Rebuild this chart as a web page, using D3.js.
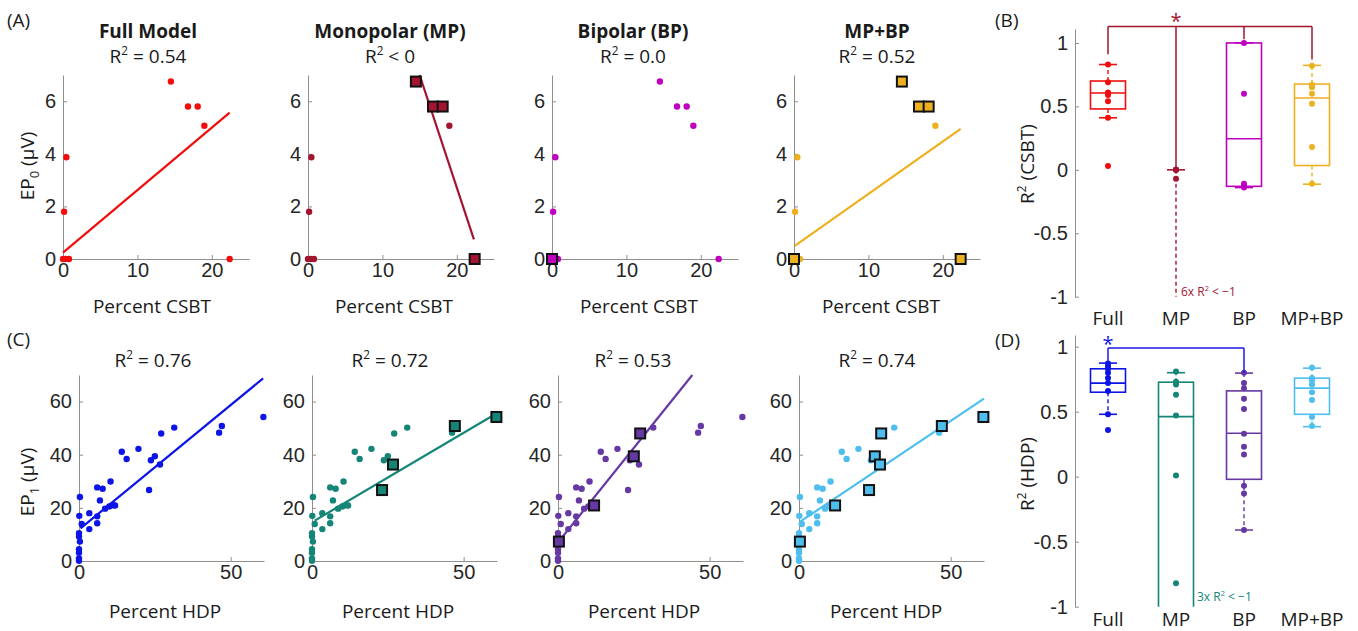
<!DOCTYPE html>
<html>
<head>
<meta charset="utf-8">
<script src="https://cdn.jsdelivr.net/npm/d3@7"></script>
<style>
  body { margin: 0; background: #fff; }
  text { font-family: "Open Sans", sans-serif; fill: #1a1a1a; }
  .axis path, .axis line { stroke: #8f8f8f; stroke-width: 1; }
  .axis text { font-family: "Liberation Sans", Arial, sans-serif; font-size: 20px; fill: #262626; }
</style>
</head>
<body>
<div id="chart"></div>
<script>
// ---- data ----
var csbtModels = ["Full Model", "Monopolar (MP)", "Bipolar (BP)", "MP+BP"];
var csbtR2Text = ["= 0.54", "< 0", "= 0.0", "= 0.52"];
var hdpR2Text = ["= 0.76", "= 0.72", "= 0.53", "= 0.74"];

var csbtColors = ["#f20d0d", "#a2142f", "#bf00bf", "#edb120"];
var hdpColors = ["#0d14e6", "#148577", "#6638a3", "#4dbeee"];

// EP0 vs percent CSBT
var csbtX = [0, 0.35, 0.8, 0.15, 0.45, 14.5, 16.8, 18.1, 19.0, 22.4];
var csbtY = [0, 0, 0, 1.8, 3.87, 6.75, 5.8, 5.8, 5.07, 0];
var csbtSquares = [[], [5, 6, 7, 9], [0], [0, 5, 6, 7, 9]];
var csbtFit = [[0, 0.24, 22.4, 5.57], [15.0, 7.0, 22.3, 0.75], null, [0.1, 0.5, 22.4, 4.95]];

// EP1 vs percent HDP
var hdpX = [0.3, 0.1, 0.9, 0, 0, 0.3, 0, 0, 0, 0, 3.4, 3.4, 6.0, 7.8, 6.9, 6.0, 6.0,
            10.4, 8.6, 10.0, 11.3, 11.9, 14.1, 15.7, 19.6, 23.1, 23.7, 25.0, 26.7, 27.1,
            31.4, 46.2, 47.1, 60.8];
var hdpY = [24.1, 17.0, 13.9, 10.5, 9.2, 7.3, 4.4, 3.1, 1.0, 0.1, 18.0, 12.0, 27.7, 27.2,
            22.8, 16.8, 14.2, 29.9, 19.7, 20.5, 21.0, 20.9, 41.1, 38.4, 42.2, 26.7, 37.9,
            39.4, 36.3, 48.0, 50.2, 48.3, 50.8, 54.2];
var hdpSquares = [[], [25, 28, 32, 33], [5, 21, 27, 29], [5, 21, 25, 27, 28, 29, 32, 33]];
var hdpFit = [[0.5, 12.3, 60.7, 68.7], [0.9, 15.2, 60.8, 55.5], [0, 7.0, 44.3, 70], [0.5, 14.9, 61, 61.1]];

var csbtXTicks = [0, 10, 20], csbtYTicks = [0, 2, 4, 6];
var hdpXTicks = [0, 50], hdpYTicks = [0, 20, 40, 60];

// R2 box plots: [q1, median, q3, whisker low, whisker high]
var boxGroups = ["Full", "MP", "BP", "MP+BP"];
var r2Ticks = [-1, -0.5, 0, 0.5, 1];
var csbtR2Points = [[0.83, 0.69, 0.61, 0.59, 0.54, 0.41, 0.03], [0, 0, 0, -0.07],
                    [1.0, 0.6, -0.11, -0.13, -0.14], [0.82, 0.67, 0.65, 0.6, 0.52, 0.18, -0.11]];
var csbtR2Box = [[0.48, 0.605, 0.70, 0.41, 0.83], [0, 0, 0, -1.1, 0],
                 [-0.13, 0.245, 1.0, -0.14, 1.0], [0.034, 0.566, 0.676, -0.113, 0.823]];
var hdpR2Points = [[0.87, 0.85, 0.83, 0.80, 0.76, 0.72, 0.66, 0.48, 0.36],
                   [0.81, 0.73, 0.71, 0.63, 0.47, 0.01, -0.82],
                   [0.80, 0.72, 0.68, 0.60, 0.52, 0.33, 0.23, 0.17, -0.07, -0.13, -0.41],
                   [0.84, 0.76, 0.74, 0.71, 0.65, 0.59, 0.46, 0.39]];
var hdpR2Box = [[0.65, 0.72, 0.83, 0.48, 0.874], [-1.1, 0.462, 0.727, -1.2, 0.80],
                [-0.02, 0.334, 0.66, -0.41, 0.797], [0.48, 0.681, 0.758, 0.385, 0.835]];
var csbtSigLegs = [0.91, 0, 1.03, 0.87], csbtSigLevel = 1.13, csbtSigStar = 1;
var hdpSigLegs = [0.886, null, 0.80, null], hdpSigLevel = 0.99, hdpSigStar = 0;

// ---- layout ----
var svg = d3.select("#chart").append("svg").attr("width", 1358).attr("height", 631);

var rowA = { lefts: [63, 308, 552, 794], width: 186, top: 75, bottom: 259, xDomain: [0, 25], yDomain: [0, 7],
             titleX: [148, 390, 633, 877], labelX: [152, 394, 639, 881], r2Y: 63, labelY: 313 };
var rowC = { lefts: [79, 312, 558, 799], width: 185, top: 375, bottom: 561, xDomain: [0, 61], yDomain: [0, 70],
             titleX: [153, 390, 633, 877], labelX: [165, 398, 644, 886], r2Y: 367, labelY: 618 };

// R^2 text with superscript
function r2(sel, before, after, size) {
  sel.append("tspan").text(before + "R");
  sel.append("tspan").attr("dy", -0.42 * size).attr("font-size", size * 0.62).text("2");
  sel.append("tspan").attr("dy", 0.42 * size).text(after);
}

function drawScatter(row, i, xs, ys, squares, fit, color, xTicks, yTicks, xLabel) {
  var left = row.lefts[i];
  var x = d3.scaleLinear().domain(row.xDomain).range([left, left + row.width]);
  var y = d3.scaleLinear().domain(row.yDomain).range([row.bottom, row.top]);
  var g = svg.append("g");

  g.append("g").attr("class", "axis").attr("transform", "translate(0," + row.bottom + ")")
    .call(d3.axisBottom(x).tickValues(xTicks).tickFormat(d3.format("d"))
      .tickSize(-4).tickSizeOuter(0).tickPadding(4));
  g.append("g").attr("class", "axis").attr("transform", "translate(" + left + ",0)")
    .call(d3.axisLeft(y).tickValues(yTicks).tickFormat(d3.format("d"))
      .tickSize(-4).tickSizeOuter(0).tickPadding(7));

  if (fit) {
    g.append("line")
      .attr("x1", x(fit[0])).attr("y1", y(fit[1]))
      .attr("x2", x(fit[2])).attr("y2", y(fit[3]))
      .attr("stroke", color).attr("stroke-width", 2.2);
  }
  g.selectAll("circle.pt").data(d3.range(xs.length)).join("circle")
    .attr("class", "pt")
    .attr("cx", function(k) { return x(xs[k]); })
    .attr("cy", function(k) { return y(ys[k]); })
    .attr("r", 3.2).attr("fill", color);
  g.selectAll("rect.sq").data(squares).join("rect")
    .attr("class", "sq")
    .attr("x", function(k) { return x(xs[k]) - 5; })
    .attr("y", function(k) { return y(ys[k]) - 5; })
    .attr("width", 10).attr("height", 10)
    .attr("fill", color).attr("stroke", "#111").attr("stroke-width", 2);

  g.append("text").attr("x", row.labelX[i]).attr("y", row.labelY)
    .attr("text-anchor", "middle").attr("font-size", 19).text(xLabel);
  return g;
}

// row A
csbtModels.forEach(function(name, i) {
  drawScatter(rowA, i, csbtX, csbtY, csbtSquares[i], csbtFit[i], csbtColors[i], csbtXTicks, csbtYTicks, "Percent CSBT");
  svg.append("text").attr("x", rowA.titleX[i]).attr("y", 38).attr("text-anchor", "middle")
    .attr("font-size", 19).attr("font-weight", "bold").text(name);
  svg.append("text").attr("x", rowA.titleX[i]).attr("y", rowA.r2Y).attr("text-anchor", "middle")
    .attr("font-size", 19).call(r2, "", " " + csbtR2Text[i], 19);
});
// row C
hdpR2Text.forEach(function(t, i) {
  drawScatter(rowC, i, hdpX, hdpY, hdpSquares[i], hdpFit[i], hdpColors[i], hdpXTicks, hdpYTicks, "Percent HDP");
  svg.append("text").attr("x", rowC.titleX[i]).attr("y", rowC.r2Y).attr("text-anchor", "middle")
    .attr("font-size", 19).call(r2, "", " " + t, 19);
});

// y labels with subscripts
function epLabel(x, y, sub) {
  var t = svg.append("text").attr("transform", "translate(" + x + "," + y + ") rotate(-90)")
    .attr("text-anchor", "middle").attr("font-size", 19);
  t.append("tspan").text("EP");
  t.append("tspan").attr("dy", 5).attr("font-size", 13).text(sub);
  t.append("tspan").attr("dy", -5).text(" (\u03bcV)");
}
epLabel(34, 166, "0");
epLabel(34, 482, "1");

// box plot panels
function drawBox(o, pts, stats, colors, legs, level, starIdx, sigColor, note) {
  var x = d3.scaleBand().domain(boxGroups).range([1074, 1346]);
  var y = d3.scaleLinear().domain(o.yDomain).range(o.yRange);
  var g = svg.append("g");
  g.append("g").attr("class", "axis").attr("transform", "translate(1075,0)")
    .call(d3.axisLeft(y).tickValues(r2Ticks).tickFormat(function(d) { return String(d); })
      .tickSize(-4).tickSizeOuter(0).tickPadding(7));

  boxGroups.forEach(function(name) {
    g.append("text").attr("x", x(name) + x.bandwidth() / 2).attr("y", o.catY)
      .attr("text-anchor", "middle").attr("font-size", 19).text(name);
  });

  g.append("clipPath").attr("id", o.id).append("rect")
    .attr("x", 1076).attr("y", 0).attr("width", 282).attr("height", y(-1));
  var bg = g.append("g").attr("clip-path", "url(#" + o.id + ")");

  var bw = 35, cw = 18;
  boxGroups.forEach(function(name, i) {
    var cx = x(name) + x.bandwidth() / 2, s = stats[i], c = colors[i];
    // whiskers
    bg.append("line").attr("x1", cx).attr("x2", cx).attr("y1", y(s[2])).attr("y2", y(s[4]))
      .attr("stroke", c).attr("stroke-width", 1.4).attr("stroke-dasharray", "4,3");
    bg.append("line").attr("x1", cx).attr("x2", cx).attr("y1", y(s[0])).attr("y2", y(s[3]))
      .attr("stroke", c).attr("stroke-width", 1.4).attr("stroke-dasharray", "4,3");
    [s[3], s[4]].forEach(function(v) {
      bg.append("line").attr("x1", cx - cw / 2).attr("x2", cx + cw / 2).attr("y1", y(v)).attr("y2", y(v))
        .attr("stroke", c).attr("stroke-width", 1.6);
    });
    if (s[2] - s[0] > 0.001) {
      bg.append("rect").attr("x", cx - bw / 2).attr("width", bw)
        .attr("y", y(s[2])).attr("height", y(s[0]) - y(s[2]))
        .attr("fill", "none").attr("stroke", c).attr("stroke-width", 1.6);
      bg.append("line").attr("x1", cx - bw / 2).attr("x2", cx + bw / 2).attr("y1", y(s[1])).attr("y2", y(s[1]))
        .attr("stroke", c).attr("stroke-width", 1.6);
    }
    bg.selectAll("circle.g" + i).data(pts[i]).join("circle").attr("class", "g" + i)
      .attr("cx", cx).attr("cy", function(v) { return y(v); }).attr("r", 3).attr("fill", c);
  });

  // significance bracket
  var idx = [];
  legs.forEach(function(v, i) {
    if (v === null) return;
    idx.push(i);
    var cx = x(boxGroups[i]) + x.bandwidth() / 2;
    g.append("line").attr("x1", cx).attr("x2", cx).attr("y1", y(level)).attr("y2", y(v))
      .attr("stroke", sigColor).attr("stroke-width", 1.5);
  });
  var c0 = x(boxGroups[idx[0]]) + x.bandwidth() / 2, c1 = x(boxGroups[idx[idx.length - 1]]) + x.bandwidth() / 2;
  g.append("line").attr("x1", c0).attr("x2", c1).attr("y1", y(level)).attr("y2", y(level))
    .attr("stroke", sigColor).attr("stroke-width", 1.5);
  g.append("text").attr("x", x(boxGroups[starIdx]) + x.bandwidth() / 2).attr("y", y(o.starV) + 10)
    .attr("text-anchor", "middle").attr("font-size", 20).style("fill", sigColor).text("*");

  // y label
  g.append("text").attr("transform", "translate(1034," + o.labelY + ") rotate(-90)")
    .attr("text-anchor", "middle").attr("font-size", 19).call(r2, "", " " + o.label, 19);

  // off-axis count note
  g.append("text").attr("x", note.x).attr("y", note.y).attr("font-size", 12)
    .style("fill", note.color).call(r2, note.n + "x ", " < \u22121", 12);
}

drawBox({ id: "clipB", yDomain: [-1, 1.11], yRange: [296.7, 29], catY: 325, starV: 1.2, labelY: 164, label: "(CSBT)" },
  csbtR2Points, csbtR2Box, csbtColors, csbtSigLegs, csbtSigLevel, csbtSigStar, "#a2142f",
  { x: 1181, y: 296, n: 6, color: "#a2142f" });
drawBox({ id: "clipD", yDomain: [-1, 1.09], yRange: [606.7, 335], catY: 626, starV: 1.045, labelY: 474, label: "(HDP)" },
  hdpR2Points, hdpR2Box, hdpColors, hdpSigLegs, hdpSigLevel, hdpSigStar, "#1a1ae6",
  { x: 1197, y: 601, n: 3, color: "#148577" });

// panel letters
[["(A)", 7, 27], ["(C)", 7, 346], ["(B)", 995, 27], ["(D)", 995, 347]].forEach(function(p) {
  svg.append("text").attr("x", p[1]).attr("y", p[2]).attr("font-size", 19).text(p[0]);
});
</script>
</body>
</html>
